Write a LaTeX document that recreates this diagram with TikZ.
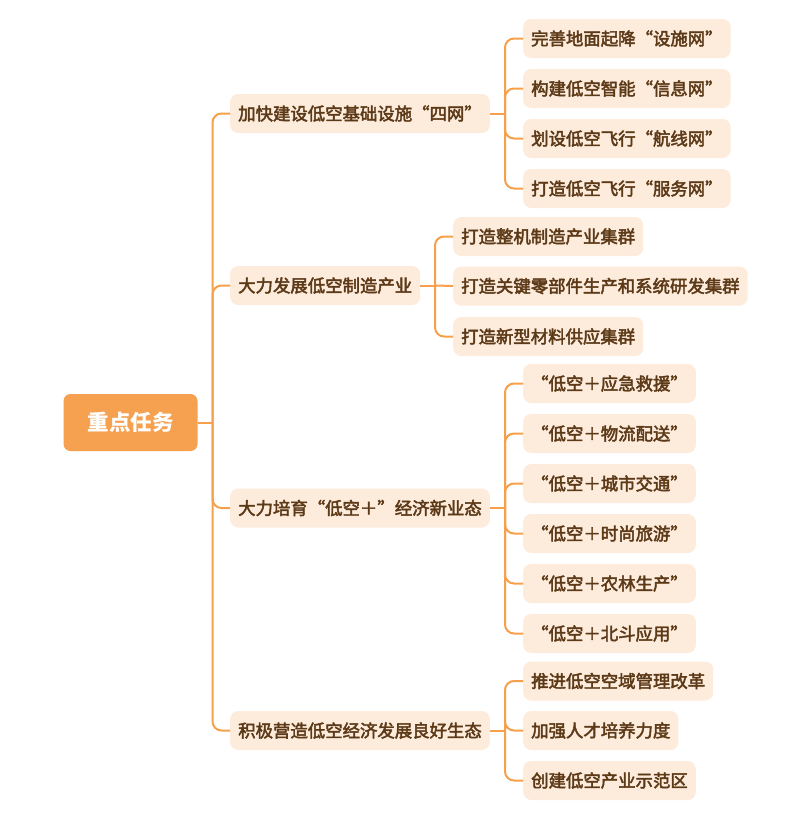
\documentclass[tikz,border=0pt]{standalone}
\usepackage{fontspec}
\setmainfont{Noto Sans CJK SC}
\newfontfamily\cjk{Noto Sans CJK SC}
\newcommand\embtext[1]{\special{pdf:literal direct 2 Tr 0.45 w}#1\special{pdf:literal direct 0 Tr}}
\definecolor{rootfill}{RGB}{245,161,80}
\definecolor{boxfill}{RGB}{253,235,220}
\definecolor{txt}{RGB}{92,58,24}
\definecolor{conncol}{RGB}{247,160,75}
\tikzset{
  rootbox/.style={fill=rootfill, rounded corners=7pt, minimum width=134pt, minimum height=57pt, inner sep=0pt, text=white, font=\cjk\fontsize{21.5pt}{24pt}\selectfont\bfseries},
  topicbox/.style={fill=boxfill, rounded corners=8pt, anchor=west, minimum height=39pt, inner xsep=8pt, inner ysep=0pt, text=txt, font=\cjk\fontsize{17.4pt}{20pt}\selectfont},
  conn/.style={draw=conncol, line width=2pt, rounded corners=9pt},
}
\begin{document}
\begin{tikzpicture}[x=1pt,y=-1pt]
\useasboundingbox (0,0) rectangle (810,817);
% root
\node[rootbox] (root) at (130.5,422.5) {重点任务};
% level 1
\node[topicbox] (a) at (230,113.5) {\embtext{加快建设低空基础设施“四网”}};
\node[topicbox] (b) at (230,285.5) {\embtext{大力发展低空制造产业}};
\node[topicbox] (c) at (230,508) {\embtext{大力培育“低空＋”经济新业态}};
\node[topicbox] (d) at (230,730.5) {\embtext{积极营造低空经济发展良好生态}};
% level 2 - a
\node[topicbox] (a1) at (523,38.5) {\embtext{完善地面起降“设施网”}};
\node[topicbox] (a2) at (523,88.5) {\embtext{构建低空智能“信息网”}};
\node[topicbox] (a3) at (523,138.5) {\embtext{划设低空飞行“航线网”}};
\node[topicbox] (a4) at (523,188.5) {\embtext{打造低空飞行“服务网”}};
% b
\node[topicbox] (b1) at (453,236.5) {\embtext{打造整机制造产业集群}};
\node[topicbox] (b2) at (453,286) {\embtext{打造关键零部件生产和系统研发集群}};
\node[topicbox] (b3) at (453,336.5) {\embtext{打造新型材料供应集群}};
% c
\node[topicbox] (c1) at (523,383.5) {\embtext{“低空＋应急救援”}};
\node[topicbox] (c2) at (523,433.5) {\embtext{“低空＋物流配送”}};
\node[topicbox] (c3) at (523,483.5) {\embtext{“低空＋城市交通”}};
\node[topicbox] (c4) at (523,533.5) {\embtext{“低空＋时尚旅游”}};
\node[topicbox] (c5) at (523,583.5) {\embtext{“低空＋农林生产”}};
\node[topicbox] (c6) at (523,633.5) {\embtext{“低空＋北斗应用”}};
% d
\node[topicbox] (d1) at (523,681) {\embtext{推进低空空域管理改革}};
\node[topicbox] (d2) at (523,730.5) {\embtext{加强人才培养力度}};
\node[topicbox] (d3) at (523,780.5) {\embtext{创建低空产业示范区}};
% junction coordinates
\coordinate (jr) at (212.5,422.5);
\coordinate (ja) at (505,113.5);
\coordinate (jb) at (435,285.5);
\coordinate (jc) at (505,508);
\coordinate (jd) at (505,730.5);
% connectors
\draw[conn] (root.east) -- (jr);
\foreach \n in {a,b,c,d} { \draw[conn] (jr) |- (\n.west); }
\draw[conn] (a.east) -- (ja);
\foreach \n in {a1,a2,a3,a4} { \draw[conn] (ja) |- (\n.west); }
\draw[conn] (b.east) -- (jb);
\foreach \n in {b1,b3} { \draw[conn] (jb) |- (\n.west); }
\draw[conn] (jb) -- (b2.west);
\draw[conn] (c.east) -- (jc);
\foreach \n in {c1,c2,c3,c4,c5,c6} { \draw[conn] (jc) |- (\n.west); }
\draw[conn] (d.east) -- (jd);
\foreach \n in {d1,d2,d3} { \draw[conn] (jd) |- (\n.west); }
\end{tikzpicture}
\end{document}
